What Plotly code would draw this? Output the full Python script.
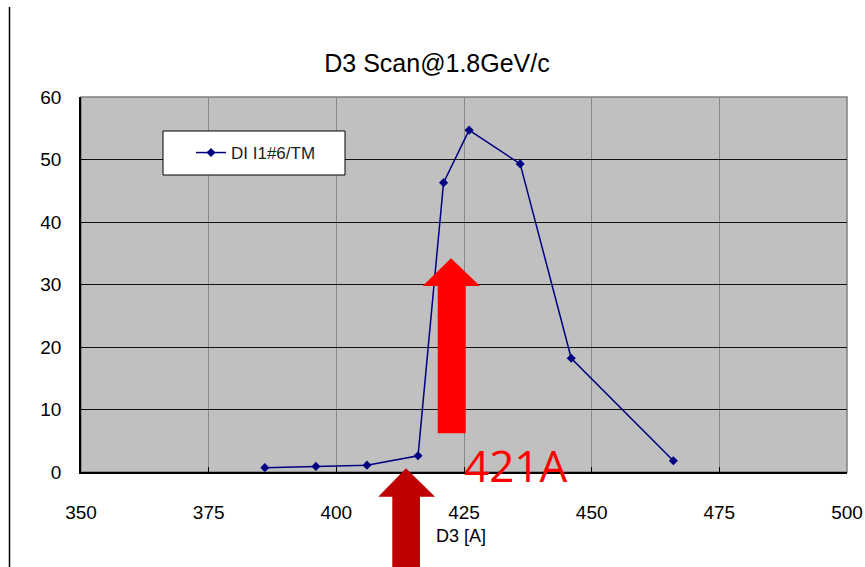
import plotly.graph_objects as go

# Data
d3_current = [386, 396, 406, 416, 421, 426, 436, 446, 466]
counts = [0.7, 0.9, 1.1, 2.6, 46.3, 54.7, 49.3, 18.2, 1.8]
series_name = "DI I1#6/TM"
x_ticks = [350, 375, 400, 425, 450, 475, 500]
y_ticks = [0, 10, 20, 30, 40, 50, 60]

W, H = 865, 567
L, R, T, B = 81, 18, 97, 95
PW, PH = W - L - R, H - T - B


def px(x):
    return (x - L) / PW


def py(y):
    return (H - B - y) / PH


def poly(points):
    return "M " + " L ".join(f"{px(a):.5f},{py(b):.5f}" for a, b in points) + " Z"


font = "Liberation Sans, Arial, sans-serif"

fig = go.Figure()
fig.add_trace(go.Scatter(
    x=d3_current, y=counts, mode="lines+markers", name=series_name,
    line=dict(color="#000080", width=1.5),
    marker=dict(symbol="diamond", size=7, color="#000080"),
))

red_arrow = [(437.7, 433.3), (437.7, 286), (422.7, 286), (451, 258.3),
             (480, 286), (465.7, 286), (465.7, 433.3)]
dark_arrow = [(392.3, 570), (392.3, 496.7), (378.3, 496.7), (406, 468.3),
              (435, 496.7), (420, 496.7), (420, 570)]

shapes = [
    dict(type="rect", xref="paper", yref="paper", x0=0, x1=1, y0=0, y1=1,
         line=dict(color="#808080", width=1.5), layer="below"),
    dict(type="line", xref="paper", yref="paper", x0=px(9.5), x1=px(9.5),
         y0=py(567), y1=py(7), line=dict(color="black", width=1.5)),
    dict(type="rect", xref="paper", yref="paper", x0=px(163), x1=px(345),
         y0=py(175), y1=py(131), fillcolor="white",
         line=dict(color="black", width=1), layer="above"),
    dict(type="path", xref="paper", yref="paper", path=poly(red_arrow),
         fillcolor="#FF0000", line=dict(width=0), layer="above"),
    dict(type="path", xref="paper", yref="paper", path=poly(dark_arrow),
         fillcolor="#C00000", line=dict(width=0), layer="above"),
]

annotations = [
    dict(text="421A", xref="paper", yref="paper", x=px(462), y=py(465),
         xanchor="left", yanchor="middle", showarrow=False,
         font=dict(family="Open Sans, sans-serif", size=44, color="#FF0000")),
    dict(text="D3 [A]", xref="paper", yref="paper", x=px(461), y=py(536),
         xanchor="center", yanchor="middle", showarrow=False,
         font=dict(family=font, size=18, color="black")),
]

fig.update_layout(
    width=W, height=H,
    margin=dict(l=L, r=R, t=T, b=B, autoexpand=False),
    paper_bgcolor="white", plot_bgcolor="#C0C0C0",
    title=dict(text="D3 Scan@1.8GeV/c", x=437 / W, y=1 - 63 / H,
               xanchor="center", yanchor="middle", xref="container", yref="container",
               font=dict(family=font, size=25, color="black")),
    showlegend=True,
    legend=dict(x=px(191), y=py(153), xanchor="left", yanchor="middle",
                bgcolor="rgba(0,0,0,0)", borderwidth=0,
                font=dict(family=font, size=17, color="#222")),
    shapes=shapes,
    annotations=annotations,
)
fig.update_xaxes(range=[350, 500], tickvals=x_ticks, ticktext=[str(v) for v in x_ticks],
                 showgrid=True, gridcolor="#888888", gridwidth=1, automargin=False,
                 showline=True, linecolor="black", linewidth=1.5,
                 ticks="inside", ticklen=5, tickcolor="black",
                 ticklabelstandoff=22, zeroline=False,
                 tickfont=dict(family=font, size=19, color="black"))
fig.update_yaxes(range=[0, 60], tickvals=y_ticks, ticktext=[str(v) for v in y_ticks],
                 showgrid=True, gridcolor="#111111", gridwidth=1, automargin=False,
                 showline=True, linecolor="black", linewidth=1.5,
                 ticks="inside", ticklen=5, tickcolor="black",
                 ticklabelstandoff=14, zeroline=False,
                 tickfont=dict(family=font, size=19, color="black"))

fig.write_html("out.html")
